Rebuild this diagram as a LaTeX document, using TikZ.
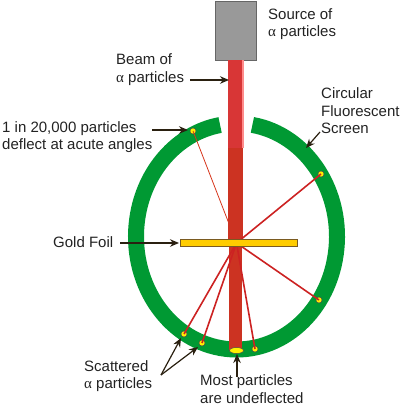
\documentclass[tikz,border=0pt]{standalone}
\usepackage{fontspec}
\setmainfont{Liberation Sans}
\newfontfamily\grk{Liberation Serif}
\usetikzlibrary{arrows.meta,shapes.geometric}
\definecolor{ringgreen}{HTML}{009933}
\definecolor{beamtop}{HTML}{D83636}
\definecolor{beamlow}{HTML}{CC3322}
\definecolor{foilfill}{HTML}{FFCC00}
\definecolor{foildraw}{HTML}{7A5A20}
\definecolor{raycol}{HTML}{CC2222}
\definecolor{txtcol}{HTML}{222222}
\definecolor{arrcol}{HTML}{2A2010}
\definecolor{srcgray}{HTML}{999999}
\tikzset{
  lbl/.style={font=\fontsize{15}{17.5}\selectfont, text=txtcol, inner sep=0pt, anchor=west, align=left},
  pointer/.style={draw=arrcol, line width=1.2pt, -{Stealth[length=9pt,width=7.5pt]}},
  ray/.style={draw=raycol, line width=1.6pt},
  spot/.style={circle, fill=yellow, draw=black!70, line width=0.5pt, minimum size=6pt, inner sep=0pt},
}
\begin{document}
\begin{tikzpicture}[x=1pt, y=-1pt]
\useasboundingbox (0,0) rectangle (400,406);
% ring (y axis points down, so the top of the ring is at 270 degrees)
\draw[ringgreen, line width=16pt] (236.5,236.5) ++(279.1:100.5 and 113)
  arc[start angle=279.1, end angle=620.6, x radius=100.5, y radius=113];
% origin
\coordinate (o) at (236.5,243);
% spots
\node[spot] (s1) at (193,131) {};
\node[spot] (s2) at (321,174) {};
\node[spot] (s3) at (319,300) {};
\node[spot] (s4) at (184,334) {};
\node[spot] (s5) at (202,343) {};
\node[spot] (s6) at (255,349) {};
% thin acute ray behind beam
\draw[draw=raycol!80!orange, line width=0.8pt] (o) -- (s1.center);
% source
\node[draw=black!60, fill=srcgray, line width=0.5pt, minimum width=41pt, minimum height=59pt, inner sep=0pt] (src) at (235.5,30.5) {};
% beam
\fill[beamtop] (228,60) rectangle (243,148);
\fill[beamlow] (228,148) rectangle (243,243);
\fill[beamlow] (228.5,243) rectangle (241.5,350);
\fill[red!45] (242.2,60) rectangle (243.5,148);
% rays
\draw[ray] (o) -- (s2.center);
\draw[ray] (o) -- (s3.center);
\draw[ray] (o) -- (s4.center);
\draw[ray] (o) -- (s5.center);
\draw[ray] (o) -- (s6.center);
% foil
\node[draw=foildraw, fill=foilfill, line width=0.8pt, minimum width=117pt, minimum height=7pt, inner sep=0pt] (foil) at (238.5,242.5) {};
% undeflected spot
\node[ellipse, fill=yellow, draw=black!70, line width=0.5pt, minimum width=14pt, minimum height=6pt, inner sep=0pt] (und) at (236.5,350.5) {};
% labels
\node[lbl] (lsrc) at (268,24) {Source of\\{\grk α} particles};
\node[lbl] (lbeam) at (116,69.5) {Beam of\\{\grk α} particles};
\node[lbl] (lscr) at (321,111) {Circular\\Fluorescent\\Screen};
\node[lbl] (lacute) at (2,137) {1 in 20,000 particles\\deflect at acute angles};
\node[lbl] (lfoil) at (53,242.5) {Gold Foil};
\node[lbl] (lscat) at (84,376) {Scattered\\{\grk α} particles};
\node[lbl] (lmost) at (200,389) {Most particles\\are undeflected};
% arrow endpoints
\coordinate (abeam0) at (190,80);   \coordinate (abeam1) at (229,80);
\coordinate (aacu0) at (152,130);   \coordinate (aacu1) at (188,130);
\coordinate (ascr0) at (320,132);   \coordinate (ascr1) at (306,148);
\coordinate (afoil0) at (120,243);  \coordinate (afoil1) at (179,243);
\coordinate (asc0) at (161,375);    \coordinate (asc1) at (181,338);
\coordinate (asc2) at (198,347);
\coordinate (amost0) at (237,377);  \coordinate (amost1) at (237,354);
\draw[pointer] (abeam0) -- (abeam1);
\draw[pointer] (aacu0) -- (aacu1);
\draw[pointer] (ascr0) -- (ascr1);
\draw[pointer] (afoil0) -- (afoil1);
\draw[pointer] (asc0) -- (asc1);
\draw[pointer] (asc0) -- (asc2);
\draw[pointer] (amost0) -- (amost1);
\end{tikzpicture}
\end{document}
